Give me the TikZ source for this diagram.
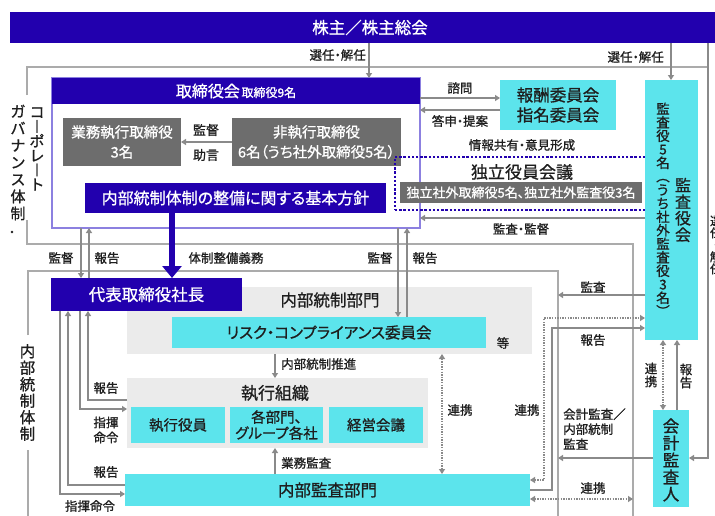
\documentclass[tikz,border=0pt]{standalone}
\usepackage{fontspec}
\setmainfont[RawFeature=+palt,FakeBold=0.9]{Noto Sans CJK JP}
\newfontfamily\jpv[FakeBold=0.9]{Noto Sans CJK JP}
\usetikzlibrary{arrows.meta,calc}
\definecolor{navy}{HTML}{2200AE}
\definecolor{cyanbox}{HTML}{5CE4EC}
\definecolor{graybox}{HTML}{6D6D6D}
\definecolor{panel}{HTML}{EBEBEB}
\definecolor{linegray}{HTML}{8A8A8A}
\definecolor{framegray}{HTML}{ABABAB}
\definecolor{tbborder}{HTML}{8C80E0}
\definecolor{txt}{HTML}{1E1E1E}
\newcommand{\fz}[2]{\fontsize{#1}{#2}\selectfont\lineskiplimit=-20pt\relax}
\newcommand{\vz}[2]{\jpv\fontsize{#1}{#2}\selectfont\lineskiplimit=-20pt\relax}
\tikzset{
  box/.style={anchor=north west, inner sep=0pt, outer sep=0pt, align=center},
  cybox/.style={box, fill=cyanbox, text=txt},
  gybox/.style={box, fill=graybox, text=white},
  nvbox/.style={box, fill=navy, text=white},
  arr/.style={draw=linegray, line width=1.4pt, -{Triangle[length=5pt,width=6pt]}},
  darr/.style={draw=linegray, line width=1.4pt, dash pattern=on 1.3pt off 1.3pt,
     {Triangle[length=5pt,width=6pt]}-{Triangle[length=5pt,width=6pt]}},
  frame/.style={draw=framegray, line width=1.1pt},
  lbl/.style={inner sep=0pt, text=txt, align=center, font=\fz{12.5}{15}},
}
\begin{document}
\begin{tikzpicture}[x=1pt,y=-1pt]
\useasboundingbox (0,0) rectangle (715,515);
\fill[white] (0,0) rectangle (715,515);

% ---------- frames ----------
\draw[frame] (27,95) -- (27,67) -- (708,67);
\draw[frame] (27,220) -- (27,244) -- (633,244) -- (633,520);
\draw[frame] (28,335) -- (28,271) -- (558,271) -- (558,520);
\draw[frame] (28,450) -- (28,520);

% ---------- frame titles ----------
\node[lbl, font=\vz{15}{14.5}] (cgA) at (37,149) {コ\\︱\\ポ\\レ\\︱\\ト};
\node[lbl, font=\vz{15}{17}] (cgB) at (18,162.5) {ガ\\バ\\ナ\\ン\\ス\\体\\制};
\node[lbl, font=\vz{15.5}{16.5}] (icT) at (27.5,392.5) {内\\部\\統\\制\\体\\制};
\fill[txt] (12,232) circle (1.4);

% ---------- banner ----------
\node[nvbox, minimum width=720, minimum height=31, font=\fz{16.5}{18}] (banner) at (10,12) {株主／株主総会};

% ---------- board ----------
\node[box, draw=tbborder, line width=1.2pt, minimum width=368, minimum height=150] (tb) at (52,78) {};
\node[nvbox, minimum width=368, minimum height=26] (tbh) at (52,78)
  {{\fz{16}{18}取締役会}\,{\fz{12}{14}取締役9名}};
\node[gybox, minimum width=118, minimum height=48, font=\fz{14.5}{20}] (gyomu) at (63,118) {業務執行取締役\\3名};
\node[gybox, minimum width=169, minimum height=48, font=\fz{14.5}{20}] (hishikko) at (232,118) {非執行取締役\\6名（うち社外取締役5名）};
\node[nvbox, minimum width=301, minimum height=30, font=\fz{16}{18}] (kihon) at (85,183) {内部統制体制の整備に関する基本方針};

% ---------- committees ----------
\node[cybox, minimum width=116, minimum height=50, font=\fz{16.5}{20}] (hoshu) at (500,80) {報酬委員会\\指名委員会};
\node[box, draw=navy, line width=1.8pt, dash pattern=on 2.4pt off 1.8pt, minimum width=254, minimum height=53] (dok) at (395,157) {};
\node[lbl, font=\fz{17}{19}] (dokt) at (522,172) {独立役員会議};
\node[gybox, minimum width=242, minimum height=21, font=\fz{13}{15}] (dokm) at (400,182) {独立社外取締役5名、独立社外監査役3名};

% ---------- auditors ----------
\node[cybox, minimum width=53, minimum height=260] (kansayaku) at (645,80) {};
\node[lbl, font=\vz{13.5}{13.5}] (ksyA) at (663,209.5) {監\\査\\役\\5\\名\\︵\\う\\ち\\社\\外\\監\\査\\役\\3\\名\\︶};
\node[lbl, font=\vz{16}{16.5}] (ksyB) at (683,210) {監\\査\\役\\会};
\node[cybox, minimum width=36, minimum height=97] (kaikei) at (653,410) {};
\node[lbl, font=\vz{16.5}{17}] (kaikeiT) at (671,460) {会\\計\\監\\査\\人};

% ---------- president ----------
\node[box, fill=panel, minimum width=405, minimum height=67] (naibu) at (127,287) {};
\node[nvbox, minimum width=191, minimum height=33, font=\fz{16.5}{18}] (shacho) at (51,278) {代表取締役社長};
\node[lbl, font=\fz{16.5}{18}] (naibuT) at (330,300) {内部統制部門};
\node[cybox, minimum width=314, minimum height=31, font=\fz{15.5}{18}] (risk) at (172,317) {リスク・コンプライアンス委員会};
\node[lbl] (tou) at (503,343) {等};

\node[box, fill=panel, minimum width=301, minimum height=70] (shikko) at (127,378) {};
\node[lbl, font=\fz{17}{19}] (shikkoT) at (275,393) {執行組織};
\node[cybox, minimum width=94, minimum height=36, font=\fz{14.5}{16}] (yakuin) at (131,407) {執行役員};
\node[cybox, minimum width=93, minimum height=36, font=\fz{14.5}{16}] (kakubu) at (230,407) {各部門、\\グループ各社};
\node[cybox, minimum width=94, minimum height=36, font=\fz{14.5}{16}] (keiei) at (329,407) {経営会議};
\node[cybox, minimum width=405, minimum height=32, font=\fz{16.5}{18}] (kansa) at (125,474) {内部監査部門};

% ---------- helper coordinates ----------
\coordinate (cA) at (369,0);
\coordinate (cB) at (671,0);
\coordinate (cR) at (708,458);
\coordinate (y98) at (0,98);
\coordinate (y110) at (0,110);
\coordinate (y218) at (0,218);
\coordinate (c172) at (172,0);
\coordinate (c81) at (81,0);
\coordinate (c89) at (89,0);
\coordinate (c398) at (398,0);
\coordinate (c407) at (407,0);
\coordinate (k295) at (558,295);
\coordinate (d544t) at (544,318);
\coordinate (d544b) at (544,480);
\coordinate (s552t) at (552,328);
\coordinate (s552b) at (552,490);
\coordinate (k458) at (558,458);
\coordinate (r499) at (633,499);
\coordinate (c663) at (663,0);
\coordinate (c677) at (677,0);
\coordinate (c275) at (275,0);
\coordinate (c442) at (442,0);
\coordinate (l88) at (88,400);
\coordinate (l80) at (80,409);
\coordinate (l68) at (68,485);
\coordinate (l60) at (60,494);

% ---------- connectors ----------
\draw[arr] (banner.south -| cA) -- (tb.north -| cA);
\draw[arr] (banner.south -| cB) -- (kansayaku.north -| cB);
\draw[arr] (banner.south -| cR) -- (cR) -- (kaikei.east |- cR);
\draw[arr] (tb.east |- y98) -- (hoshu.west |- y98);
\draw[arr] (hoshu.west |- y110) -- (tb.east |- y110);
\draw[arr] (hishikko.west) -- (gyomu.east);
\draw[arr] (kansayaku.west |- y218) -- (tb.east |- y218);
\draw[navy, line width=6pt, -{Triangle[length=12pt,width=19pt]}] (kihon.south -| c172) -- (shacho.north -| c172);
\draw[arr] (tb.south -| c81) -- (shacho.north -| c81);
\draw[arr] (shacho.north -| c89) -- (tb.south -| c89);
\draw[arr] (tb.south -| c398) -- (risk.north -| c398);
\draw[arr] (risk.north -| c407) -- (tb.south -| c407);
\draw[arr] (kansayaku.west |- k295) -- (k295);
\draw[darr] (kansa.east |- d544b) -- (d544b) -- (d544t) -- (kansayaku.west |- d544t);
\draw[arr] (kansa.east |- s552b) -- (s552b) -- (s552t) -- (kansayaku.west |- s552t);
\draw[arr] (kaikei.west |- k458) -- (k458);
\draw[darr] (kansa.east |- r499) -- (r499);
\draw[darr] (kansayaku.south -| c663) -- (kaikei.north -| c663);
\draw[arr] (kaikei.north -| c677) -- (kansayaku.south -| c677);
\draw[arr] (naibu.south -| c275) -- (shikko.north -| c275);
\draw[arr] (kansa.north -| c275) -- (shikko.south -| c275);
\draw[darr] (naibu.south -| c442) -- (kansa.north -| c442);
\draw[arr] (shikko.west |- l88) -- (l88) -- (shacho.south -| l88);
\draw[arr] (shacho.south -| l80) -- (l80) -- (shikko.west |- l80);
\draw[arr] (kansa.west |- l68) -- (l68) -- (shacho.south -| l68);
\draw[arr] (shacho.south -| l60) -- (l60) -- (kansa.west |- l60);

% ---------- labels ----------
\node[lbl, anchor=east] at (366,55) {選任・解任};
\node[lbl, anchor=east] at (664,57) {選任・解任};
\node[lbl, font=\vz{12}{12}] at (716,245) {選\\任\\・\\解\\任};
\node[lbl] at (460,88) {諮問};
\node[lbl] at (460,121) {答申・提案};
\node[lbl, font=\fz{13}{15}] at (206,130) {監督};
\node[lbl, font=\fz{13}{15}] at (206,155) {助言};
\node[lbl] at (522,145) {情報共有・意見形成};
\node[lbl] at (521,229) {監査・監督};
\node[lbl] at (61,258) {監督};
\node[lbl] at (107,258) {報告};
\node[lbl] at (226,258) {体制整備義務};
\node[lbl] at (380,258) {監督};
\node[lbl] at (425,258) {報告};
\node[lbl, anchor=west] at (281,364) {内部統制推進};
\node[lbl, anchor=west] at (281,463) {業務監査};
\node[lbl] at (106,388) {報告};
\node[lbl] at (106,430) {指揮\\命令};
\node[lbl] at (106,472) {報告};
\node[lbl] at (90,506) {指揮命令};
\node[lbl] at (460,410) {連携};
\node[lbl] at (527,410) {連携};
\node[lbl, anchor=west, align=left] at (563,429) {会計監査／\\内部統制\\監査};
\node[lbl] at (593,287) {監査};
\node[lbl] at (593,340) {報告};
\node[lbl] at (593,488) {連携};
\node[lbl, font=\vz{12.5}{13}] at (651,375) {連\\携};
\node[lbl, font=\vz{12.5}{13}] at (686,376) {報\\告};
\end{tikzpicture}
\end{document}
